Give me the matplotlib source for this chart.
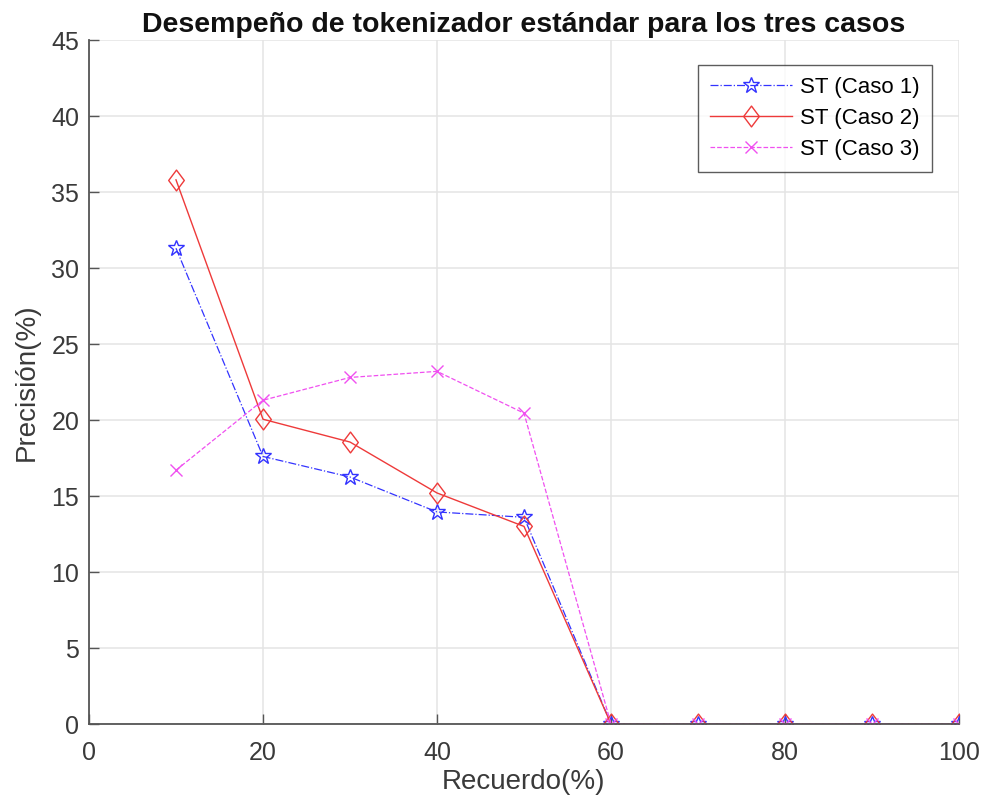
import matplotlib
matplotlib.use("Agg")
import matplotlib.pyplot as plt
from matplotlib.path import Path

plt.rcParams['font.family'] = ['Liberation Sans', 'DejaVu Sans']

recall = [10, 20, 30, 40, 50, 60, 70, 80, 90, 100]
caso1 = [31.3, 17.6, 16.25, 13.95, 13.6, 0, 0, 0, 0, 0]
caso2 = [35.8, 20.05, 18.55, 15.2, 13.0, 0, 0, 0, 0, 0]
caso3 = [16.7, 21.3, 22.8, 23.2, 20.45, 0, 0, 0, 0, 0]
labels = ['ST (Caso 1)', 'ST (Caso 2)', 'ST (Caso 3)']

# MATLAB-style diamond: a bit taller than it is wide
diamond = Path([(0, 1), (0.75, 0), (0, -1), (-0.75, 0), (0, 1)],
               [Path.MOVETO, Path.LINETO, Path.LINETO, Path.LINETO, Path.CLOSEPOLY])

fig = plt.figure(figsize=(9.84, 8.06), dpi=100)
ax = fig.add_axes([89/984, 1 - 724/806, (959 - 89)/984, (724 - 40)/806])

ax.plot(recall, caso1, linestyle='-.', color='#3333ff', linewidth=0.9,
        marker='*', markersize=12, markerfacecolor='none', markeredgewidth=1.0,
        label=labels[0])
ax.plot(recall, caso2, linestyle='-', color='#ee3a3a', linewidth=1.0,
        marker=diamond, markersize=15, markerfacecolor='none', markeredgewidth=1.0,
        label=labels[1])
ax.plot(recall, caso3, linestyle='--', color='#f050f0', linewidth=0.9,
        marker='x', markersize=8, markeredgewidth=1.0,
        label=labels[2])

ax.set_xlim(0, 100)
ax.set_ylim(0, 45)
ax.set_xticks(range(0, 101, 20))
ax.set_yticks(range(0, 46, 5))
ax.grid(True, color='#e4e4e4', linewidth=1.1)
ax.set_axisbelow(True)

for side in ('top', 'right'):
    ax.spines[side].set_visible(False)
for side in ('left', 'bottom'):
    ax.spines[side].set_color('#555555')
    ax.spines[side].set_linewidth(1.3)

ax.tick_params(direction='in', length=7, width=1, colors='#555555',
               labelcolor='#3a3a3a', labelsize=18)
ax.tick_params(axis='x', pad=12)
ax.tick_params(axis='y', pad=7)

ax.set_xlabel('Recuerdo(%)', fontsize=20, color='#3a3a3a', labelpad=3)
ax.set_ylabel('Precisión(%)', fontsize=20, color='#3a3a3a', labelpad=8)
ax.set_title('Desempeño de tokenizador estándar para los tres casos',
             fontsize=20.5, fontweight='bold', color='#111111', pad=6)

leg = ax.legend(loc='upper right', bbox_to_anchor=(0.969, 0.9635),
                borderaxespad=0, fontsize=16,
                frameon=True, fancybox=False, edgecolor='#333333',
                handlelength=3.7, handletextpad=0.35, borderpad=0.55,
                labelspacing=0.45)
leg.get_frame().set_linewidth(1.0)

fig.savefig('out.png', dpi=100)
